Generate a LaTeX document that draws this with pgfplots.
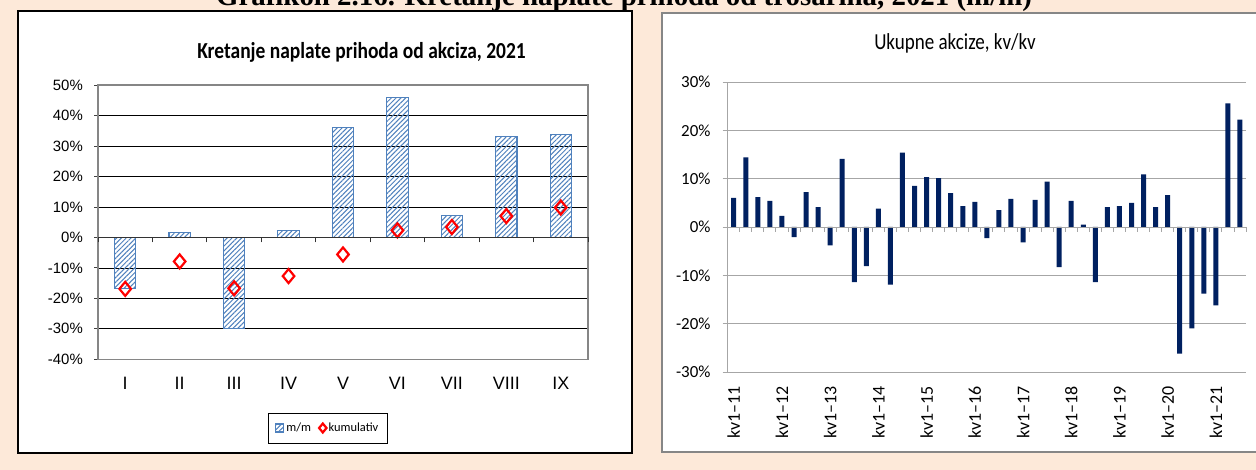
\documentclass[border=0pt]{standalone}
\usepackage{fontspec}
\setmainfont{Liberation Sans}
\newfontfamily\calfont{Carlito}
\newfontfamily\caltitle{Carlito}[FakeStretch=0.85]
\newfontfamily\calrt{Carlito}[FakeStretch=0.83]
\newfontfamily\tnrfont{Liberation Serif}
\usepackage{pgfplots}
\pgfplotsset{compat=1.18}
\usetikzlibrary{patterns.meta}
\definecolor{peach}{HTML}{FDE9D9}
\definecolor{barblue}{HTML}{4F81BD}
\definecolor{navy}{HTML}{002060}
\definecolor{gridg}{HTML}{A6A6A6}
\definecolor{frameg}{HTML}{868686}
\pgfplotsset{
  squarelegend/.style={legend image code/.code={\draw[##1] (0bp,-4bp) rectangle (8bp,4bp);}},
  diamondlegend/.style={legend image code/.code={\draw[##1, mark size=4.5bp] plot coordinates {(4bp,0bp)};}},
}
\begin{document}
\begin{tikzpicture}[x=1bp,y=1bp]
\clip (0,0) rectangle (1256,470);
\fill[peach] (0,0) rectangle (1256,470);
\node[anchor=base, font=\tnrfont\bfseries\fontsize{29}{32}\selectfont, inner sep=0pt] at (624,464) {Grafikon 2.16. Kretanje naplate prihoda od trošarina, 2021 (m/m)};
\draw[black, line width=1.3bp, fill=white] (18,17) rectangle (632,459);
\draw[frameg, line width=2bp, fill=white] (662,18) rectangle (1266,457);
\node[anchor=base, font=\caltitle\bfseries\fontsize{23}{23}\selectfont, inner sep=0pt] at (361.5,411) {Kretanje naplate prihoda od akciza, 2021};
\node[anchor=base, font=\calrt\fontsize{23}{23}\selectfont, inner sep=0pt] at (955,420) {Ukupne akcize, kv/kv};
% ---------------- left chart ----------------
\begin{axis}[
  at={(98bp,110.7bp)}, anchor=south west, scale only axis,
  width=490bp, height=274.3bp,
  xmin=0.5, xmax=9.5, ymin=-40, ymax=50,
  xtick={1,...,9}, xticklabels={I,II,III,IV,V,VI,VII,VIII,IX},
  ytick={-40,-30,...,50},
  yticklabels={-40\%,-30\%,-20\%,-10\%,0\%,10\%,20\%,30\%,40\%,50\%},
  ymajorgrids, grid style={black, line width=0.7bp},
  axis line style={frameg, line width=1.3bp},
  tick align=outside, major tick length=4bp, ytick pos=left,
  xtick style={draw=none}, ytick style={black!75, line width=0.8bp},
  yticklabel style={font=\fontsize{15}{15}\selectfont, anchor=east, inner sep=0pt, xshift=-11bp},
  xticklabel style={font=\fontsize{18}{18}\selectfont, anchor=north, inner sep=0pt, yshift=-13.7bp},
  legend columns=2,
  legend style={at={(0.469,-0.2505)}, anchor=center, draw=black, line width=0.8bp,
    font=\calfont\fontsize{12.5}{12.5}\selectfont, inner xsep=7bp, inner ysep=8bp,
    /tikz/every even column/.append style={column sep=6bp}},
  legend cell align=left,
]
\addplot[ybar, bar width=21.3bp, draw=barblue, line width=1.1bp,
  pattern={Lines[angle=45, distance=3.4bp, line width=1bp]}, pattern color=barblue, squarelegend]
  coordinates {(1,-16.7) (2,1.7) (3,-30) (4,2.4) (5,36) (6,45.8) (7,7.1) (8,33) (9,33.7)};
\addlegendentry{m/m}
\addplot[only marks, mark=diamond, mark size=7bp,
  mark options={draw=red, fill=white, line width=2.2bp, xscale=1.1}, diamondlegend]
  coordinates {(1,-16.9) (2,-7.9) (3,-16.7) (4,-12.7) (5,-5.6) (6,2.3) (7,3.4) (8,7.0) (9,9.8)};
\addlegendentry{kumulativ}
\end{axis}
\begin{axis}[
  at={(98bp,232.7bp)}, anchor=south west, scale only axis,
  width=490bp, height=10bp, xmin=0.5, xmax=9.5, ymin=0, ymax=1,
  axis x line=bottom, axis y line=none,
  axis line style={-, black!80, line width=1bp},
  xtick={0.5,1.5,...,9.5}, xticklabels={},
  tick align=outside, major tick length=5bp,
  xtick style={black!80, line width=0.8bp},
]
\end{axis}
% ---------------- right chart ----------------
\begin{axis}[
  at={(727.7bp,98bp)}, anchor=south west, scale only axis,
  width=518.3bp, height=290bp,
  xmin=0.5, xmax=43.5, ymin=-30, ymax=30,
  xtick={1,5,...,41},
  xticklabels={kv1–11,kv1–12,kv1–13,kv1–14,kv1–15,kv1–16,kv1–17,kv1–18,kv1–19,kv1–20,kv1–21},
  ytick={-30,-20,...,30},
  yticklabels={-30\%,-20\%,-10\%,0\%,10\%,20\%,30\%},
  axis lines*=left,
  ymajorgrids, grid style={gridg, line width=0.9bp},
  axis line style={gridg, line width=0.9bp},
  tick align=outside, major tick length=5bp, ytick pos=left,
  xtick style={draw=none}, ytick style={gridg, line width=0.9bp},
  yticklabel style={font=\calfont\fontsize{17}{17}\selectfont, anchor=east, inner sep=0pt, xshift=-12bp},
  xticklabel style={font=\calfont\fontsize{18}{18}\selectfont, rotate=90, anchor=east, inner xsep=9bp, inner ysep=0pt},
]
\addplot[ybar, bar width=5bp, fill=navy, draw=none] coordinates {
(1,6.0) (2,14.4) (3,6.2) (4,5.4) (5,2.3) (6,-2.1) (7,7.2) (8,4.1) (9,-3.8) (10,14.1)
(11,-11.4) (12,-8.1) (13,3.8) (14,-11.9) (15,15.4) (16,8.5) (17,10.3) (18,10.1) (19,7.0) (20,4.3)
(21,5.2) (22,-2.3) (23,3.5) (24,5.8) (25,-3.2) (26,5.6) (27,9.4) (28,-8.3) (29,5.4) (30,0.5)
(31,-11.4) (32,4.1) (33,4.3) (34,5.0) (35,10.9) (36,4.1) (37,6.6) (38,-26.2) (39,-21.0) (40,-13.8)
(41,-16.2) (42,25.6) (43,22.2)};
\end{axis}
\begin{axis}[
  at={(727.7bp,243bp)}, anchor=south west, scale only axis,
  width=518.3bp, height=10bp, xmin=0.5, xmax=43.5, ymin=0, ymax=1,
  axis x line=bottom, axis y line=none,
  axis line style={-, gridg, line width=0.9bp},
  xtick={0.5,1.5,...,43.5}, xticklabels={},
  tick align=outside, major tick length=5bp,
  xtick style={gridg, line width=0.9bp},
]
\end{axis}
\end{tikzpicture}
\end{document}
